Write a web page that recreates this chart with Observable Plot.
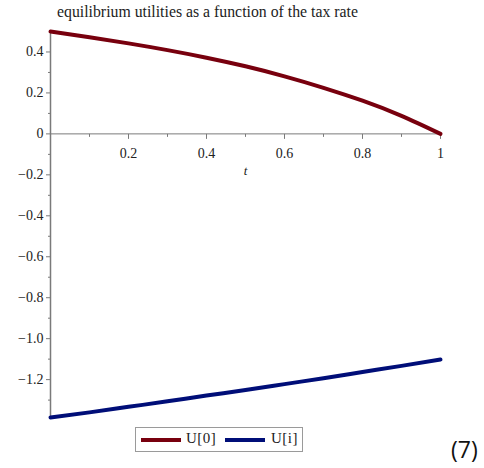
<!DOCTYPE html>
<html>
<head>
<meta charset="utf-8">
<script src="https://cdn.jsdelivr.net/npm/d3@7"></script>
<script src="https://cdn.jsdelivr.net/npm/@observablehq/plot@0.6"></script>
<style>
  html, body { margin: 0; padding: 0; background: #fff; }
  #wrap { position: relative; width: 484px; height: 468px; overflow: hidden; }
  #title { position: absolute; left: 57px; top: 3px; font-family: "Liberation Serif", serif; font-size: 15.8px; color: #222; white-space: nowrap; }
  #legend { position: absolute; left: 135px; top: 427px; width: 168px; height: 25px; border: 1px solid #9a9a9a; box-sizing: border-box; font-family: "Liberation Serif", serif; font-size: 15px; color: #222; }
  #legend .sw { position: absolute; top: 10px; width: 40px; height: 4px; }
  #legend .lb { position: absolute; top: 2px; letter-spacing: 0.5px; }
  #eq { position: absolute; left: 451px; top: 433px; font-family: "Open Sans", sans-serif; font-size: 23px; color: #111; }
</style>
</head>
<body>
<div id="wrap">
  <div id="chart"></div>
  <div id="title"></div>
  <div id="legend"></div>
  <div id="eq">(7)</div>
</div>
<script>
const titleText = "equilibrium utilities as a function of the tax rate";
const tValues = [0, 0.1, 0.2, 0.3, 0.4, 0.5, 0.6, 0.7, 0.8, 0.9, 1.0];
const U0 = [0.5, 0.472, 0.442, 0.409, 0.372, 0.330, 0.281, 0.225, 0.162, 0.088, 0];
const Ui = [-1.385, -1.360, -1.333, -1.306, -1.278, -1.251, -1.222, -1.193, -1.163, -1.133, -1.102];
const seriesNames = ["U[0]", "U[i]"];
const seriesColors = ["#78000E", "#000E78"];
const xMajorTicks = [0.2, 0.4, 0.6, 0.8, 1];
const xMinorTicks = [0.1, 0.3, 0.5, 0.7, 0.9];
const yMajorTicks = [0.4, 0.2, 0, -0.2, -0.4, -0.6, -0.8, -1.0, -1.2];
const yMinorTicks = [0.3, 0.1, -0.1, -0.3, -0.5, -0.7, -0.9, -1.1, -1.3];
const xLabel = "t";
const xDomain = [0, 1];
const yDomain = [-1.385, 0.5];

const data = [];
tValues.forEach((t, i) => {
  data.push({t, u: U0[i], s: seriesNames[0]});
});
tValues.forEach((t, i) => {
  data.push({t, u: Ui[i], s: seriesNames[1]});
});

const axisGray = "#7a7a7a";
const serif = "Liberation Serif, serif";
const tickDown = len => ({draw(ctx) { ctx.moveTo(0, 0); ctx.lineTo(0, len); }});

function fmtY(d) {
  if (d === 0) return "0";
  const s = Math.abs(d).toFixed(1);
  return d < 0 ? "\u2212" + s : s;
}
function fmtX(d) {
  return d === 1 ? "1" : d.toFixed(1);
}

const chart = Plot.plot({
  width: 484,
  height: 468,
  marginLeft: 50,
  marginRight: 44,
  marginTop: 31,
  marginBottom: 51,
  style: {fontFamily: serif, fontSize: "14px", color: "#222", background: "transparent"},
  x: {domain: xDomain, axis: null},
  y: {domain: yDomain, axis: null},
  color: {domain: seriesNames, range: seriesColors},
  marks: [
    Plot.ruleY([0], {stroke: axisGray, strokeWidth: 1}),
    Plot.ruleX([0], {stroke: axisGray, strokeWidth: 1.5}),
    Plot.axisY(yMajorTicks, {anchor: "left", tickSize: 4, tickPadding: 3, stroke: axisGray, strokeWidth: 1, tickFormat: fmtY, fontSize: 14, fontFamily: serif, fill: "#222", label: null}),
    Plot.axisY(yMinorTicks, {anchor: "left", tickSize: 2, stroke: axisGray, strokeWidth: 1, tickFormat: () => "", label: null}),
    Plot.dot(xMajorTicks, {x: d => d, y: () => 0, symbol: tickDown(5), stroke: axisGray, strokeWidth: 1}),
    Plot.dot(xMinorTicks, {x: d => d, y: () => 0, symbol: tickDown(3), stroke: axisGray, strokeWidth: 1}),
    Plot.text(xMajorTicks, {x: d => d, y: () => 0, dy: 20, text: fmtX, fontSize: 14, fontFamily: serif, fill: "#222"}),
    Plot.text([xLabel], {x: () => (xDomain[0] + xDomain[1]) / 2, y: () => 0, dy: 37, text: d => d, fontSize: 13, fontStyle: "italic", fontFamily: serif, fill: "#222"}),
    Plot.line(data, {x: "t", y: "u", z: "s", stroke: "s", strokeWidth: 4, curve: "natural"})
  ]
});
document.getElementById("chart").appendChild(chart);
document.getElementById("title").textContent = titleText;

const legend = document.getElementById("legend");
const swX = [5, 89];
const lbX = [50, 135];
seriesNames.forEach((name, i) => {
  const sw = document.createElement("div");
  sw.className = "sw";
  sw.style.left = swX[i] + "px";
  sw.style.background = seriesColors[i];
  legend.appendChild(sw);
  const lb = document.createElement("div");
  lb.className = "lb";
  lb.style.left = lbX[i] + "px";
  lb.textContent = name;
  legend.appendChild(lb);
});
</script>
</body>
</html>
